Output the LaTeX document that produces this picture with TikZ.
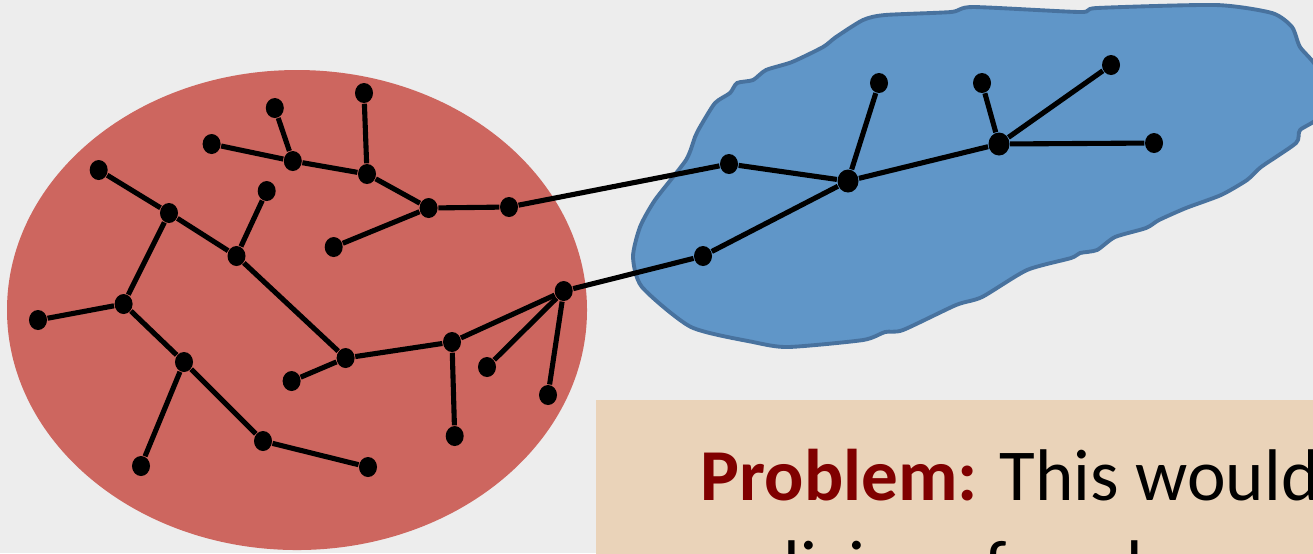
\documentclass[tikz,border=0pt]{standalone}
\usepackage{fontspec}
\setmainfont{Carlito}
\definecolor{bgc}{HTML}{EDEDED}
\definecolor{redfill}{HTML}{CD665F}
\definecolor{bluefill}{HTML}{6096C8}
\definecolor{blueline}{HTML}{48729E}
\definecolor{boxfill}{HTML}{EAD3B9}
\definecolor{darkred}{HTML}{800000}
\tikzset{
  vdot/.style={ellipse, fill=black, inner sep=0pt, minimum width=0.18cm, minimum height=0.2cm},
  hub/.style={ellipse, fill=black, inner sep=0pt, minimum width=0.21cm, minimum height=0.23cm},
  edge/.style={line width=1.45pt, black},
}
\usetikzlibrary{shapes.geometric}
\begin{document}
\begin{tikzpicture}[x=0.01cm, y=-0.01cm]
\useasboundingbox (0,0) rectangle (1313,553);
\clip (0,0) rectangle (1313,553);
\fill[bgc] (0,0) rectangle (1313,553);
% red ellipse
\fill[redfill] (297,310) ellipse [x radius=290, y radius=240];
% blue blob
\filldraw[fill=bluefill, draw=blueline, line width=1.1pt]
  plot[smooth cycle, tension=0.4] coordinates {
  (1272,13) (1292,27) (1300,47) (1318,70) (1320,115) (1300,130) (1296,143)
  (1261,167) (1247,180) (1221,195) (1186,208) (1159,220) (1146,228)
  (1115,237) (1097,250) (1080,253) (1071,258) (1027,270) (982,297)
  (956,305) (903,330) (885,332) (863,340) (788,347) (753,342) (691,327)
  (642,287) (633,257) (640,227) (655,200) (686,160) (695,137) (700,127)
  (715,103) (730,93) (737,83) (753,80) (766,70) (792,62) (823,47)
  (836,37) (863,20) (885,15) (951,12) (973,7) (1080,12) (1097,8)
  (1216,5)};
% text box
\fill[boxfill] (596,400) rectangle (1320,560);
\node[anchor=base west, inner sep=0pt, font=\fontsize{20.8pt}{25pt}\selectfont]
  (t1) at (700,500) {\textcolor{darkred}{\textbf{Problem:}} This would require};
\node[anchor=base west, inner sep=0pt, font=\fontsize{20.8pt}{25pt}\selectfont]
  (t2) at (706,591) {policies of each\hspace{3.1em}\textbf{f}};
% red tree nodes
\node[vdot] (a1) at (98.7,170) {};
\node[vdot] (a2) at (169,213) {};
\node[vdot] (a3) at (236.5,256) {};
\node[vdot] (a4) at (266.7,191) {};
\node[vdot] (a5) at (123.6,304) {};
\node[vdot] (a6) at (38,320) {};
\node[vdot] (a7) at (184,362) {};
\node[vdot] (a8) at (141,466) {};
\node[vdot] (a9) at (263,441) {};
\node[vdot] (a10) at (368,467) {};
\node[vdot] (a11) at (345.6,358) {};
\node[vdot] (a12) at (291.6,381) {};
\node[vdot] (a13) at (452,342) {};
\node[vdot] (a14) at (454.7,436) {};
\node[vdot] (a15) at (487,367) {};
\node[vdot] (a16) at (548,395) {};
\node[vdot] (a17) at (563.7,291) {};
\node[vdot] (b1) at (211.6,144) {};
\node[vdot] (b2) at (292.8,161) {};
\node[vdot] (b3) at (274.8,108) {};
\node[vdot] (b4) at (364,93) {};
\node[vdot] (b5) at (367,174) {};
\node[vdot] (b6) at (428.6,208) {};
\node[vdot] (b7) at (509,207) {};
\node[vdot] (b8) at (333.7,247) {};
% blue tree nodes
\node[vdot] (c1) at (729,164) {};
\node[hub] (c2) at (848,181) {};
\node[vdot] (c3) at (879,83) {};
\node[hub] (c4) at (999,144) {};
\node[vdot] (c5) at (982,83) {};
\node[vdot] (c6) at (1111,65) {};
\node[vdot] (c7) at (1154,143) {};
\node[vdot] (c8) at (703,256) {};
% edges
\draw[edge] (a1) -- (a2);
\draw[edge] (a2) -- (a3);
\draw[edge] (a3) -- (a4);
\draw[edge] (a2) -- (a5);
\draw[edge] (a5) -- (a6);
\draw[edge] (a5) -- (a7);
\draw[edge] (a7) -- (a8);
\draw[edge] (a7) -- (a9);
\draw[edge] (a9) -- (a10);
\draw[edge] (a3) -- (a11);
\draw[edge] (a11) -- (a12);
\draw[edge] (a11) -- (a13);
\draw[edge] (a13) -- (a14);
\draw[edge] (a13) -- (a17);
\draw[edge] (a17) -- (a15);
\draw[edge] (a17) -- (a16);
\draw[edge] (a17) -- (c8);
\draw[edge] (b1) -- (b2);
\draw[edge] (b2) -- (b3);
\draw[edge] (b2) -- (b5);
\draw[edge] (b4) -- (b5);
\draw[edge] (b5) -- (b6);
\draw[edge] (b6) -- (b8);
\draw[edge] (b6) -- (b7);
\draw[edge] (b7) -- (c1);
\draw[edge] (c1) -- (c2);
\draw[edge] (c2) -- (c3);
\draw[edge] (c2) -- (c4);
\draw[edge] (c4) -- (c5);
\draw[edge] (c4) -- (c6);
\draw[edge] (c4) -- (c7);
\draw[edge] (c2) -- (c8);
\end{tikzpicture}
\end{document}
